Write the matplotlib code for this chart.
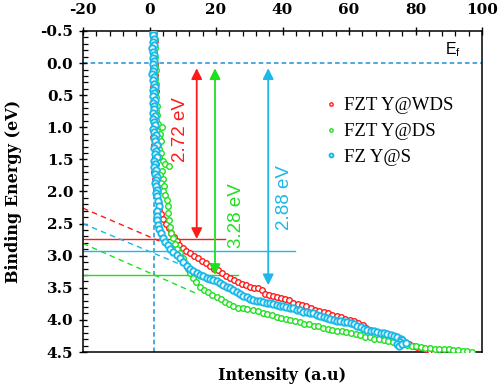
import matplotlib
matplotlib.use("Agg")
import matplotlib.pyplot as plt
from matplotlib.ticker import MultipleLocator

plt.rcParams["axes.unicode_minus"] = False

# ---------------- data (x = intensity, y = binding energy) ----------------
red_pts = [(1.3,-0.47),(1.1,-0.41),(1.6,-0.35),(1.2,-0.29),(1.4,-0.23),(1.0,-0.17),(1.5,-0.11),(1.3,-0.05),
           (1.7,0.01),(1.2,0.07),(1.4,0.13),(1.8,0.19),(1.3,0.25),(1.5,0.31),(1.1,0.37),(1.9,0.43),(1.4,0.49),
           (1.6,0.55),(1.2,0.61),(1.8,0.67),(1.5,0.73),(2.0,0.79),(1.3,0.85),(1.7,0.91),(1.9,0.97),(1.4,1.03),
           (1.6,1.09),(1.2,1.15),(1.8,1.21),(1.5,1.27),(1.3,1.33),(1.9,1.39),(1.6,1.45),(1.4,1.51),(2.0,1.57),
           (1.7,1.63),(1.5,1.69),(2.1,1.75),(1.8,1.81),(1.6,1.87),(2.2,1.93),(1.9,1.99),(2.3,2.05),
           (2.5,2.13),(2.8,2.2),(3.0,2.27),(3.5,2.35),(4.2,2.43),(5.0,2.50),(5.8,2.57),(6.6,2.64),(7.4,2.71),
           (8.2,2.77),(9.0,2.83),(10.0,2.88),(11.0,2.92),(12.2,2.96),(13.4,3.00),(14.6,3.04),(15.8,3.08),
           (17.0,3.12),(18.2,3.16),(19.4,3.20),(20.6,3.23),(21.8,3.27),(23.0,3.31),(24.2,3.35),(25.4,3.38),
           (26.6,3.41),(27.8,3.44),(29.0,3.46),(30.2,3.48),(31.4,3.50),(32.6,3.51),(33.8,3.53),(34.8,3.59),
           (36.0,3.61),(37.2,3.63),(38.4,3.65),(39.6,3.66),(40.8,3.67),(42.0,3.69),(43.3,3.73),(44.6,3.75),
           (45.9,3.77),(47.2,3.79),(48.5,3.82),(49.8,3.84),(51.1,3.86),(52.4,3.88),(53.7,3.90),(55.0,3.92),
           (56.3,3.94),(57.6,3.96),(58.9,3.98),(60.2,4.00),(61.5,4.02),(62.8,4.05),(64.1,4.08),(65.0,4.12),
           (66.3,4.15),(67.6,4.18),(68.9,4.21),(70.2,4.24),(71.5,4.26),(72.8,4.28),(74.1,4.29),(75.4,4.31),
           (76.7,4.35),(78.0,4.38),(79.3,4.40),(80.6,4.42),(81.9,4.44),(83.2,4.46),(84.5,4.49),(85.5,4.50)]

green_pts = [(1.4,-0.45),(1.6,-0.38),(1.3,-0.31),(1.7,-0.24),(1.5,-0.17),(1.8,-0.10),(1.4,-0.03),(1.6,0.04),
             (1.9,0.11),(1.5,0.18),(1.7,0.25),(2.0,0.32),(1.6,0.39),(1.8,0.46),(2.1,0.53),(1.7,0.60),(2.2,0.67),
             (1.9,0.74),(2.4,0.81),(2.1,0.88),(2.6,0.95),(3.7,1.00),(2.4,1.05),(3.1,1.10),(2.8,1.16),(3.4,1.22),
             (2.5,1.28),(3.0,1.34),(3.6,1.40),(2.9,1.46),(4.1,1.52),(4.6,1.57),(5.9,1.60),(3.8,1.68),(3.2,1.74),
             (4.0,1.80),(3.5,1.86),(4.3,1.92),
             (4.2,2.00),(4.6,2.06),(5.2,2.13),(5.5,2.22),(5.7,2.34),(5.9,2.45),(6.2,2.55),(6.4,2.65),(7.0,2.73),
             (7.7,2.81),(8.4,2.89),(9.2,2.96),(10.0,3.04),(10.8,3.12),(11.5,3.20),(12.2,3.27),(13.0,3.34),
             (14.0,3.41),(15.2,3.48),(16.4,3.53),(17.6,3.57),(18.9,3.61),(20.2,3.64),(21.4,3.68),(22.6,3.72),
             (23.9,3.76),(25.2,3.79),(26.6,3.81),(28.0,3.82),(29.4,3.83),(31.2,3.85),(32.6,3.86),(34.0,3.89),
             (35.4,3.91),(36.8,3.93),(38.2,3.95),(39.6,3.97),(41.0,3.99),(42.4,4.00),(43.8,4.02),(45.2,4.04),
             (46.6,4.06),(48.0,4.07),(49.4,4.09),(50.8,4.10),(52.2,4.12),(53.6,4.14),(55.0,4.15),(56.4,4.17),
             (57.8,4.18),(59.2,4.19),(60.6,4.21),(62.0,4.22),(63.4,4.24),(64.8,4.26),(66.2,4.27),(67.6,4.29),
             (69.0,4.30),(70.4,4.31),(71.8,4.33),(73.2,4.35),(74.6,4.37),(76.0,4.38),(77.4,4.39),(78.8,4.40),
             (80.2,4.41),(81.6,4.42),(83.0,4.43),(84.4,4.44),(85.8,4.45),(87.2,4.45),(88.6,4.46),(90.0,4.46),
             (91.4,4.47),(92.8,4.47),(94.2,4.48),(95.6,4.49),(97.0,4.50)]

cyan_pts = [(1.2,-0.48),(1.0,-0.43),(1.3,-0.38),(1.1,-0.33),(1.4,-0.28),(0.9,-0.23),(1.2,-0.18),(1.5,-0.13),
            (1.0,-0.08),(1.3,-0.03),(1.1,0.02),(1.4,0.07),(1.2,0.12),(0.8,0.17),(1.5,0.22),(1.1,0.27),(1.3,0.32),
            (1.6,0.37),(1.0,0.42),(1.4,0.47),(1.2,0.52),(1.7,0.57),(1.1,0.62),(1.5,0.67),(1.3,0.72),(1.0,0.77),
            (1.6,0.82),(1.2,0.87),(1.4,0.92),(1.8,0.97),(1.1,1.02),(1.5,1.07),(2.0,1.12),(1.3,1.17),(1.7,1.22),
            (2.2,1.27),(1.4,1.32),(1.9,1.37),(1.6,1.42),(2.3,1.47),(1.5,1.52),(1.8,1.57),(1.4,1.62),(2.0,1.67),
            (1.7,1.72),(2.2,1.77),(1.9,1.82),(1.6,1.87),(2.1,1.92),(2.4,1.97),(2.0,2.02),(2.3,2.07),
            (2.5,2.15),(2.8,2.22),(2.4,2.30),(2.2,2.38),(2.3,2.45),(2.6,2.52),(3.0,2.58),(3.6,2.65),(4.2,2.72),
            (4.8,2.78),(5.5,2.84),(6.3,2.89),(7.2,2.94),(8.2,2.99),(9.2,3.04),(10.2,3.10),(11.2,3.16),(12.2,3.20),
            (13.2,3.24),(14.2,3.27),(15.2,3.30),(16.2,3.32),(17.2,3.34),(18.2,3.36),(19.2,3.38),(20.2,3.40),
            (21.2,3.42),(22.2,3.45),(23.2,3.48),(24.2,3.51),(25.2,3.53),(26.2,3.56),(27.2,3.59),(28.2,3.62),
            (29.2,3.64),(30.2,3.67),(31.2,3.69),(32.2,3.70),(33.2,3.71),(34.2,3.72),(35.2,3.73),(36.2,3.74),
            (37.2,3.76),(38.2,3.77),(39.2,3.78),(40.2,3.79),(41.2,3.80),(42.2,3.81),(43.3,3.82),(44.3,3.84),
            (45.3,3.85),(46.3,3.87),(47.3,3.88),(48.3,3.89),(49.3,3.90),(50.4,3.92),(51.4,3.94),(52.4,3.96),
            (53.4,3.97),(54.4,3.99),(55.4,4.00),(56.4,4.01),(57.4,4.02),(58.4,4.03),(59.4,4.04),(60.5,4.05),
            (61.5,4.07),(62.5,4.09),(63.5,4.11),(64.5,4.14),(65.5,4.16),(66.5,4.17),(67.5,4.18),(68.5,4.19),
            (69.5,4.20),(70.5,4.21),(71.5,4.22),(72.5,4.24),(73.5,4.25),(74.5,4.27),(75.5,4.29),(76.0,4.32),
            (75.2,4.35),(74.5,4.38),(75.0,4.40),(76.0,4.38),(77.0,4.36)]

series_labels = ["FZT Y@WDS", "FZT Y@DS", "FZ Y@S"]
series_colors = ["#ff1a1a", "#1ee01e", "#1cb8e8"]

# band-gap constructions (order: red, green, cyan)
gap_labels = ["2.72 eV", "3.28 eV", "2.88 eV"]
gap_levels = [2.74, 3.30, 2.93]
gap_line_end = [22.7, 26.6, 43.8]
arrow_x = [14.2, 19.7, 35.7]
arrow_bottom = [2.74, 3.30, 3.46]
arrow_top = 0.08
label_x = [9.2, 26.2, 40.7]
label_y = [1.04, 2.37, 2.09]
tangent_start = [(-20, 2.26), (-20, 2.81), (-20, 2.50)]
tangent_end = [(8.3, 2.89), (13.7, 3.58), (9.0, 3.13)]

fermi_level = 0.0
baseline_x = 1.5

xticks = [-20, 0, 20, 40, 60, 80, 100]
yticks = [-0.5, 0.0, 0.5, 1.0, 1.5, 2.0, 2.5, 3.0, 3.5, 4.0, 4.5]

# ---------------- figure ----------------
fig = plt.figure(figsize=(4.98, 3.88), dpi=100)
ax = fig.add_axes([83/498, 1-352/388, 399/498, 321/388])

serif_bold = "DejaVu Serif"
serif = "Liberation Serif"
sans = "Liberation Sans"
dash_blue = "#1e90d6"

ax.axhline(fermi_level, color=dash_blue, ls=(0, (3, 2)), lw=1.1, zorder=1)
ax.axvline(baseline_x, color=dash_blue, ls=(0, (3, 2)), lw=1.1, zorder=1)

for i in range(3):
    c = series_colors[i]
    ax.plot([-20, gap_line_end[i]], [gap_levels[i], gap_levels[i]], color=c, lw=1.0, zorder=2)
    ax.plot([tangent_start[i][0], tangent_end[i][0]], [tangent_start[i][1], tangent_end[i][1]],
            color=c, lw=1.0, ls=(0, (4, 3)), zorder=2)

all_pts = [red_pts, green_pts, cyan_pts]
sizes = [4.0, 4.0, 4.6]
widths = [1.0, 1.0, 1.4]
for pts, lab, col, ms, mw in zip(all_pts, series_labels, series_colors, sizes, widths):
    xs = [p[0] for p in pts]
    ys = [p[1] for p in pts]
    ax.plot(xs, ys, ls="none", marker="o", ms=ms, mfc="white", mec=col, mew=mw, label=lab, zorder=3)

for i in range(3):
    c = series_colors[i]
    ax.annotate("", xy=(arrow_x[i], arrow_top), xytext=(arrow_x[i], arrow_bottom[i]),
                arrowprops=dict(arrowstyle="<|-|>", color=c, lw=1.3, mutation_scale=16,
                                shrinkA=0, shrinkB=0), zorder=5)
    ax.text(label_x[i], label_y[i], gap_labels[i], color=c, rotation=90, ha="center", va="center",
            fontsize=13.5, family=sans, zorder=5)

ax.text(88.8, -0.07, r"E$_{\mathregular{f}}$", fontsize=11.5, family=sans, ha="left", va="bottom")

ax.set_xlim(-20, 100)
ax.set_ylim(4.5, -0.5)
ax.xaxis.tick_top()
ax.set_xticks(xticks)
ax.set_yticks(yticks)
ax.set_yticklabels([f"{v:.1f}" for v in yticks])
ax.xaxis.set_minor_locator(MultipleLocator(4))
ax.yaxis.set_minor_locator(MultipleLocator(0.1))
ax.tick_params(axis="both", which="major", direction="inout", length=6, width=1.0, labelsize=11)
ax.tick_params(axis="both", which="minor", direction="in", length=3.5, width=0.9)
ax.tick_params(axis="x", which="both", top=True, bottom=False, labeltop=True, labelbottom=False, pad=7)
ax.tick_params(axis="y", which="both", left=True, right=False, pad=4)
for lbl in ax.get_xticklabels() + ax.get_yticklabels():
    lbl.set_fontfamily(serif_bold)
    lbl.set_fontweight("bold")
for s in ax.spines.values():
    s.set_linewidth(1.1)

fig.text(0.5*(83+482)/498, 1-376/388, "Intensity (a.u)", ha="center", va="center",
         fontsize=11.5, fontweight="bold", family=serif_bold)
fig.text(14/498, 1-191/388, "Binding Energy (eV)", ha="center", va="center", rotation=90,
         fontsize=11.5, fontweight="bold", family=serif_bold)

leg = ax.legend(loc="upper left", bbox_to_anchor=((318-83)/399, (352-88)/321), frameon=False,
                prop={"family": serif, "size": 13.5}, handlelength=0.4, handletextpad=0.5,
                labelspacing=0.45, borderpad=0, markerscale=0.6)

fig.savefig("out.png", dpi=100)
